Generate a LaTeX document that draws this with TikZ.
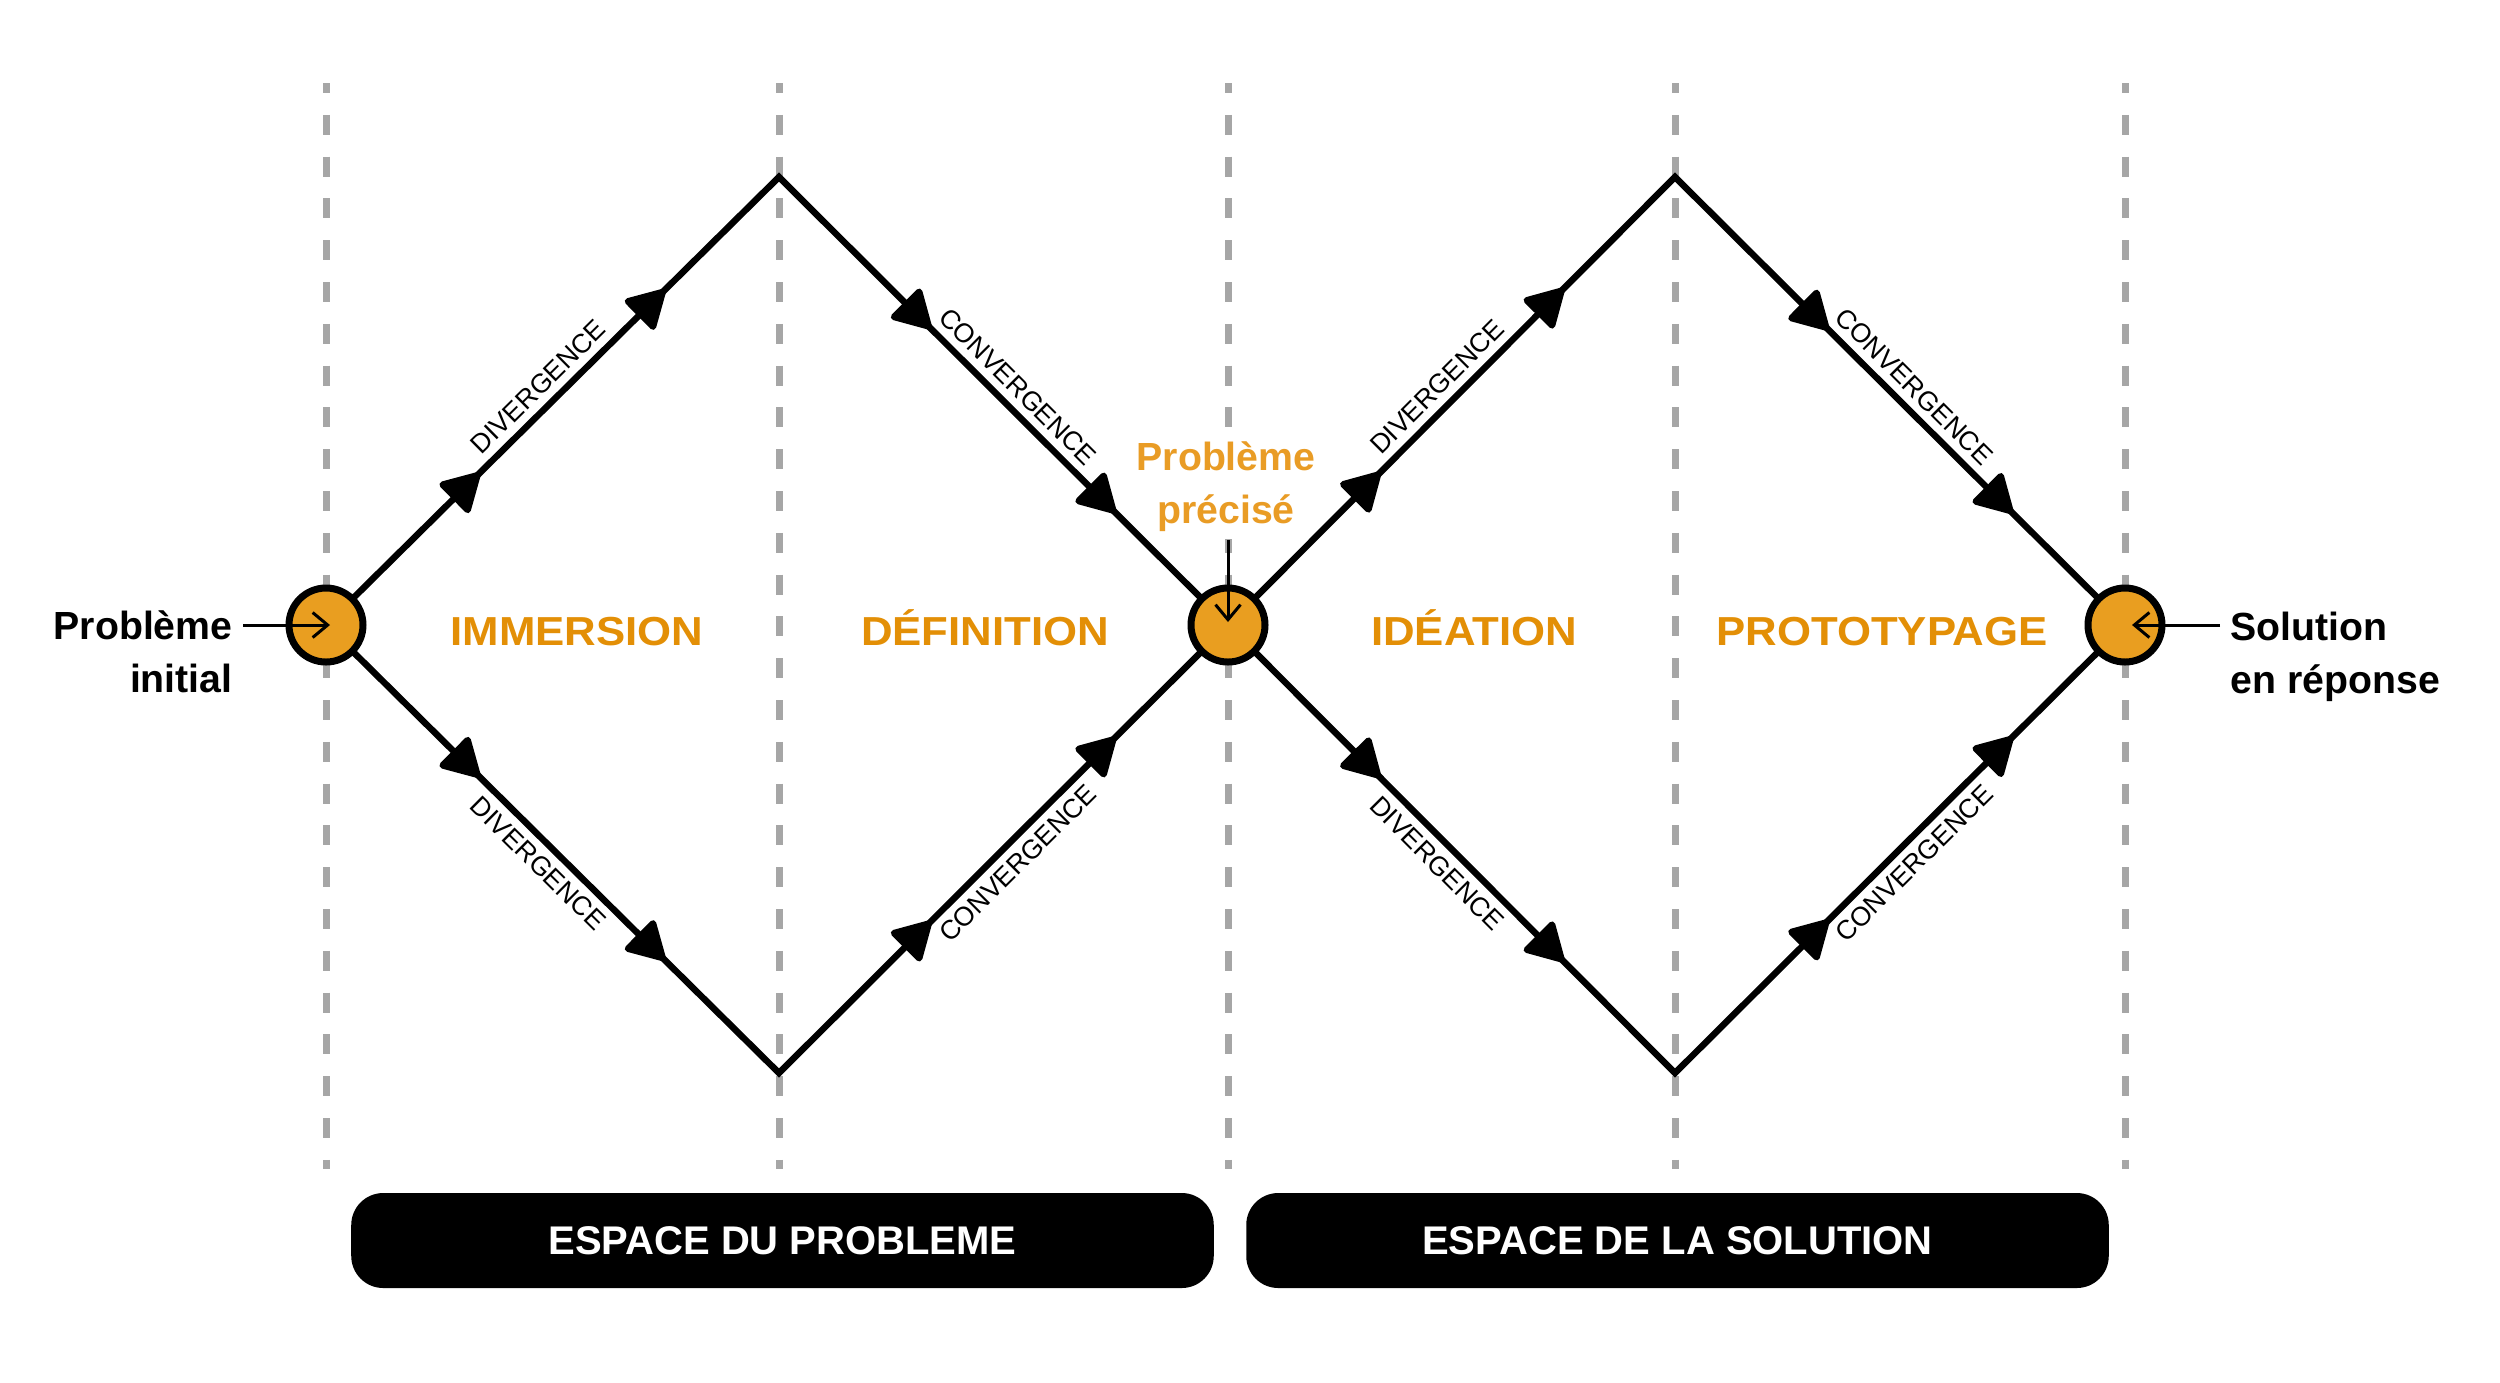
\documentclass[tikz,border=0pt]{standalone}
\usepackage{fontspec}
\setmainfont{Liberation Sans}
\newfontfamily\headfont[FakeStretch=1.08]{Liberation Sans}
\usetikzlibrary{arrows.meta,decorations.markings}
\definecolor{orTxt}{HTML}{E38F06}
\definecolor{orFill}{HTML}{E99E20}
\definecolor{orLbl}{HTML}{E99C25}
\definecolor{guidegray}{HTML}{A6A6A6}
\begin{document}
\begin{tikzpicture}[x=0.4pt,y=-0.4pt,
  guide/.style={draw=guidegray,line width=2.8pt,dash pattern=on 8pt off 8.72pt,dash phase=4pt},
  flow/.style={line width=2.6pt,postaction={decorate},decoration={markings,
     mark=at position 0.17 with {\arrow{Triangle[length=16.5pt,width=18pt,round]}},
     mark=at position 0.375 with {\arrow{Triangle[length=16.5pt,width=18pt,round]}},
     mark=at position 0.67 with {\arrow{Triangle[length=16.5pt,width=18pt,round]}},
     mark=at position 0.875 with {\arrow{Triangle[length=16.5pt,width=18pt,round]}}}},
  lbl/.style={font=\fontsize{10.7pt}{12pt}\selectfont,inner sep=3pt},
  circ/.style={circle,draw=black,fill=orFill,line width=2.8pt,minimum size=29.6pt,inner sep=0pt},
  head/.style={font=\headfont\bfseries\fontsize{16.2pt}{19pt}\selectfont,text=orTxt,inner sep=0pt,anchor=base},
  side/.style={font=\bfseries\fontsize{15.7pt}{21.2pt}\selectfont,inner sep=0pt},
  ptr/.style={line width=1.2pt,-{Straight Barb[length=6pt,width=10pt]}},
  spacebox/.style={fill=black,rounded corners=12.8pt,minimum width=345pt,minimum height=38pt,
     inner sep=0pt,text=white,font=\bfseries\fontsize{16pt}{19pt}\selectfont}
]
\useasboundingbox (0,0) rectangle (2500,1382);
\fill[white] (0,0) rectangle (2500,1382);

% dashed guides
\foreach \gx in {326,779,1228,1675,2125}
  \draw[guide] (\gx,83) -- (\gx,1169);

% label that masks the central guide
\node[side,align=center,text=orLbl,fill=white,inner sep=3pt] (pp) at (1226,487) {Problème\\précisé};

% key points
\coordinate (c1) at (326,625);
\coordinate (c2) at (1228,625);
\coordinate (c3) at (2125,625);
\coordinate (t1) at (779,177);
\coordinate (b1) at (779,1073);
\coordinate (t2) at (1675,177);
\coordinate (b2) at (1675,1073);

% diamonds
\draw[flow] (c1) -- node[lbl,above,sloped]{DIVERGENCE} (t1) -- node[lbl,above,sloped]{CONVERGENCE} (c2);
\draw[flow] (c1) -- node[lbl,below,sloped]{DIVERGENCE} (b1) -- node[lbl,below,sloped]{CONVERGENCE} (c2);
\draw[flow] (c2) -- node[lbl,above,sloped]{DIVERGENCE} (t2) -- node[lbl,above,sloped]{CONVERGENCE} (c3);
\draw[flow] (c2) -- node[lbl,below,sloped]{DIVERGENCE} (b2) -- node[lbl,below,sloped]{CONVERGENCE} (c3);

% circles
\node[circ] (n1) at (c1) {};
\node[circ] (n2) at (c2) {};
\node[circ] (n3) at (c3) {};

% phase headings
\node[head] (h1) at (577,645) {IMMERSION};
\node[head] (h2) at (985,645) {DÉFINITION};
\node[head] (h3) at (1474,645) {IDÉATION};
\node[head] (h4) at (1882,645) {PROTOTYPAGE};

% side texts
\node[side,align=right,anchor=east] (pi) at (233,652) {Problème\\initial};
\node[side,align=left,anchor=west] (sr) at (2230,657) {Solution\\en réponse};

% pointers
\draw[ptr] ([xshift=4pt]pi.east |- n1.center) -- ([xshift=1.6pt]n1.center);
\draw[ptr] (n2.center |- pp.south) -- ([yshift=1.2pt]n2.center);
\draw[ptr] ([xshift=-4pt]sr.west |- n3.center) -- ([xshift=2.8pt]n3.center);

% bottom spaces
\node[spacebox] (s1) at (782.5,1240.5) {ESPACE DU PROBLEME};
\node[spacebox] (s2) at (1677.5,1240.5) {ESPACE DE LA SOLUTION};
\end{tikzpicture}
\end{document}
